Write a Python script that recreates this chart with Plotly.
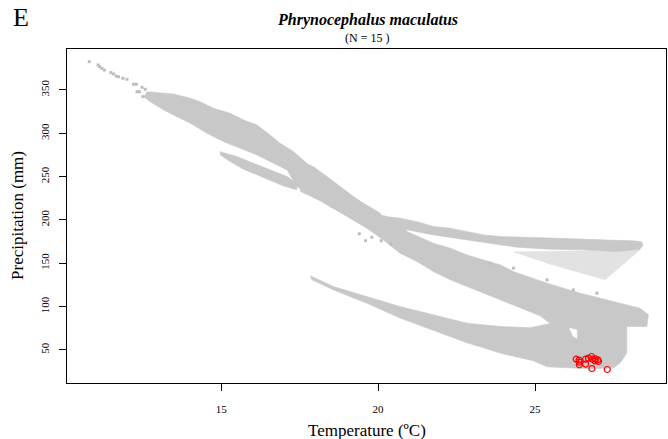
import plotly.graph_objects as go

# outlines of the grey climate cloud (temperature ºC, precipitation mm)
upper_t = [12.64, 13.17, 13.48, 14.02, 14.33, 14.76, 15.29, 15.71, 16.14, 16.56, 16.88, 17.31,
           17.73, 18.16, 18.58, 19.01, 19.54, 20.07,
           20.07, 19.54, 19.01, 18.47, 17.94, 17.41, 17.10, 16.67, 16.14, 15.61, 15.08, 14.55,
           14.02, 13.59, 13.17, 12.74, 12.53]
upper_p = [348.0, 346.2, 345.4, 340.4, 336.5, 328.9, 323.1, 315.4, 309.6, 298.1, 288.5, 278.8,
           265.4, 253.9, 240.4, 230.8, 219.3, 207.7,
           190.4, 194.2, 205.8, 215.4, 226.9, 238.4, 257.7, 265.4, 275.0, 282.7, 290.3, 300.0,
           311.6, 319.2, 326.9, 336.5, 342.3]

thin_t = [14.97, 15.50, 16.03, 16.56, 17.10, 17.41, 17.41, 16.99, 16.56, 16.14, 15.71, 15.29, 14.97]
thin_p = [278.8, 273.1, 265.4, 257.7, 250.0, 242.3, 234.6, 239.2, 245.4, 251.9, 258.5, 267.3, 275.0]

main_t = [17.52, 17.94, 18.37, 18.79, 19.22, 19.64, 20.07, 20.49, 20.70,
          20.92, 21.76, 22.30, 22.83, 23.36, 23.89, 24.31, 25.38, 26.44, 27.50, 28.34, 28.61,
          28.56, 27.92, 27.92, 27.92, 27.71, 27.50, 26.75, 26.01, 25.38, 24.95, 23.89, 22.83,
          21.76, 20.70, 19.64, 18.58, 17.89,
          17.84, 18.58, 19.64, 20.70, 21.76, 22.83, 23.89, 24.84, 25.48,
          25.16, 24.53, 23.89, 23.36, 22.83, 22.30, 21.76, 21.24, 20.70, 20.17, 19.64, 19.11,
          18.58, 18.16, 17.52]
main_p = [267.3, 261.5, 250.0, 238.4, 226.9, 215.4, 205.8, 202.0, 200.0,
          186.5, 173.1, 167.4, 159.6, 153.8, 148.1, 140.4, 127.0, 115.4, 105.7, 98.1, 90.4,
          76.9, 76.9, 73.1, 46.2, 34.7, 29.2, 28.1, 29.2, 30.4, 37.3, 46.2, 58.1,
          72.3, 86.6, 103.9, 119.2, 130.8,
          135.4, 123.0, 111.5, 99.9, 90.4, 80.8, 76.9, 75.4, 80.5,
          89.2, 98.5, 107.7, 115.4, 123.0, 130.8, 140.4, 151.9, 161.6, 176.9, 190.4, 202.0,
          213.0, 222.0, 233.0]

right_t = [20.30, 20.70, 21.24, 21.76, 22.30, 22.83, 23.36, 23.89, 25.00, 26.00, 27.07, 28.13,
           28.40, 28.44, 28.34, 27.60, 26.54, 25.48, 24.42, 23.89, 22.83, 21.76, 20.92, 20.30]
right_p = [203.5, 202.0, 198.0, 192.3, 190.4, 186.5, 182.7, 180.8, 180.0, 178.5, 177.0, 175.8,
           174.6, 171.0, 166.0, 163.5, 165.4, 166.2, 168.5, 171.2, 176.9, 182.7, 188.5, 198.0]

sparse_t = [24.31, 28.34, 27.23, 25.38]
sparse_p = [163.0, 165.4, 130.8, 150.0]

hole_t = [26.09, 26.33, 26.33, 26.20]
hole_p = [75.0, 73.0, 63.5, 66.0]

# scattered single cells
dots_t = [10.80, 11.08, 11.13, 11.20, 11.28, 11.49, 11.57, 11.66, 11.73, 11.87, 12.00, 12.21,
          12.30, 12.48, 12.58, 12.32, 12.40, 12.51,
          19.40, 19.80, 20.10, 20.40, 19.60, 23.57, 24.31, 25.38, 26.22, 26.97]
dots_p = [382.7, 378.8, 376.9, 375.0, 373.0, 370.0, 368.5, 366.0, 365.3, 363.5, 362.3, 356.6,
          356.6, 353.1, 350.8, 348.0, 348.0, 342.3,
          184.0, 180.0, 176.0, 172.0, 176.0, 150.0, 144.3, 130.8, 119.2, 115.4]

# occurrence records (N = 15)
occ_t = [26.31, 26.40, 26.41, 26.41, 26.61, 26.61, 26.70, 26.80, 26.83, 26.91, 27.00, 27.02,
         26.92, 26.81, 27.30]
occ_p = [39.3, 38.1, 35.8, 32.7, 39.3, 33.5, 40.4, 42.3, 39.3, 37.3, 38.5, 36.5, 39.6,
         28.4, 27.3]

dense = "#C8C8C8"
serif = "Liberation Serif, Times New Roman, serif"

fig = go.Figure()

def area(t, p, color):
    fig.add_trace(go.Scatter(x=t, y=p, mode="lines", fill="toself", fillcolor=color,
                             line=dict(width=0.6, color=color), hoverinfo="skip",
                             showlegend=False))

area(sparse_t, sparse_p, "#E2E2E2")
area(upper_t, upper_p, dense)
area(thin_t, thin_p, dense)
area(main_t, main_p, dense)
area(right_t, right_p, dense)
area(hole_t, hole_p, "white")

fig.add_trace(go.Scatter(x=dots_t, y=dots_p, mode="markers",
                         marker=dict(symbol="square", size=3, color="#BEBEBE"),
                         showlegend=False))
fig.add_trace(go.Scatter(x=occ_t, y=occ_p, mode="markers",
                         marker=dict(symbol="circle-open", size=6, color="red",
                                     line=dict(width=1.2, color="red")),
                         showlegend=False))

fig.update_xaxes(range=[10.09, 29.17], tickvals=[15, 20, 25], ticks="outside", ticklen=7,
                 tickcolor="black", showline=True, linecolor="black", linewidth=1, mirror=True,
                 showgrid=False, zeroline=False, ticklabelstandoff=9,
                 tickfont=dict(family=serif, size=11, color="black"))
fig.update_yaxes(range=[11.7, 397.3], tickvals=[50, 100, 150, 200, 250, 300, 350],
                 ticks="outside", ticklen=7, tickcolor="black", tickangle=-90,
                 showline=True, linecolor="black", linewidth=1, mirror=True,
                 showgrid=False, zeroline=False, ticklabelstandoff=6,
                 tickfont=dict(family=serif, size=11, color="black"))

fig.update_layout(
    width=668, height=439,
    margin=dict(l=67, r=2, t=49, b=56),
    paper_bgcolor="white", plot_bgcolor="white",
    font=dict(family=serif, color="black"),
    annotations=[
        dict(text="<b><i>Phrynocephalus maculatus</i></b>", x=0.501, y=1.087,
             xref="paper", yref="paper", showarrow=False, font=dict(size=16),
             xanchor="center", yanchor="middle"),
        dict(text="(N = 15 )", x=0.501, y=1.033, xref="paper", yref="paper",
             showarrow=False, font=dict(size=12), xanchor="center", yanchor="middle"),
        dict(text="E", x=-0.077, y=1.093, xref="paper", yref="paper", showarrow=False,
             font=dict(size=26), xanchor="center", yanchor="middle"),
        dict(text="Precipitation (mm)", x=-0.082, y=0.503, xref="paper", yref="paper",
             showarrow=False, textangle=-90, font=dict(size=17),
             xanchor="center", yanchor="middle"),
        dict(text="Temperature (ºC)", x=0.5, y=-0.141, xref="paper", yref="paper",
             showarrow=False, font=dict(size=17), xanchor="center", yanchor="middle"),
    ],
)

# page body margin would shift the 668x439 figure, drop it
fig.write_html("out.html", config={"displayModeBar": False},
               post_script="document.body.style.margin='0';")
